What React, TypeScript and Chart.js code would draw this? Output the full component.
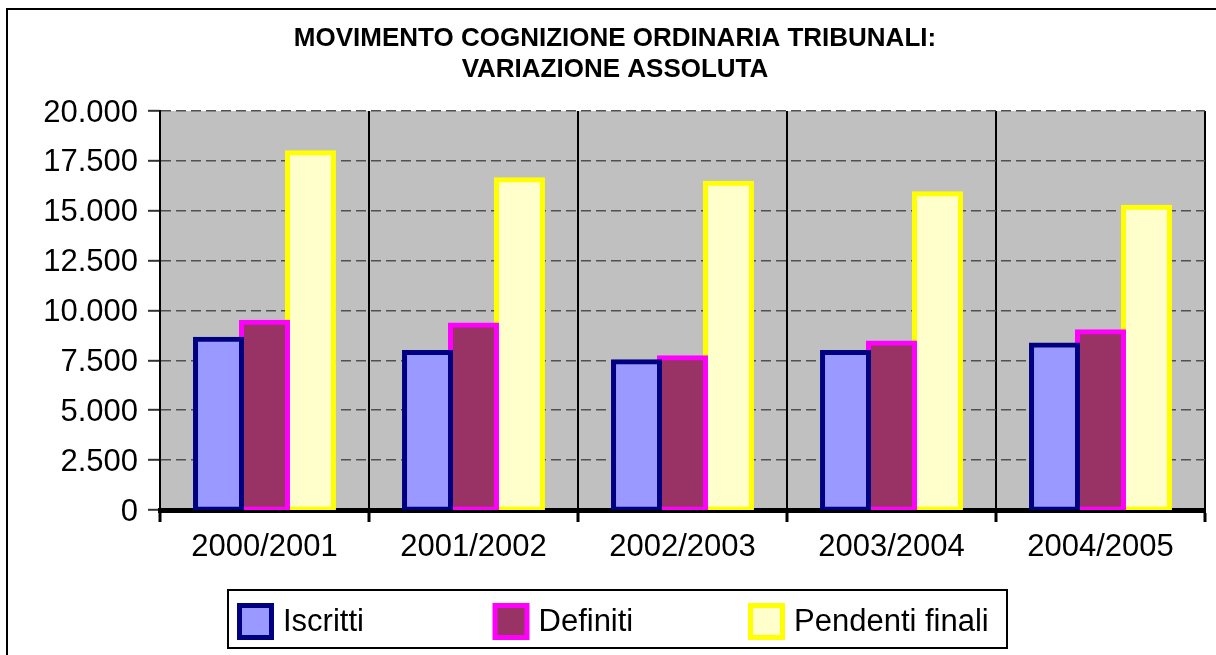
import React, { useEffect, useRef } from 'react';
import { Chart, registerables } from 'chart.js';

Chart.register(...registerables);

const categories = ['2000/2001', '2001/2002', '2002/2003', '2003/2004', '2004/2005'];
const iscritti = [8560, 7900, 7430, 7900, 8270];
const definiti = [9410, 9270, 7630, 8370, 8940];
const pendentiFinali = [17910, 16550, 16380, 15850, 15180];
const seriesLabels = ['Iscritti', 'Definiti', 'Pendenti finali'];
const yTickValues = [0, 2500, 5000, 7500, 10000, 12500, 15000, 17500, 20000];
const yTickLabels = ['0', '2.500', '5.000', '7.500', '10.000', '12.500', '15.000', '17.500', '20.000'];
const titleLines = ['MOVIMENTO COGNIZIONE ORDINARIA TRIBUNALI:', 'VARIAZIONE ASSOLUTA'];

const FONT = '"Liberation Sans", Arial, Helvetica, sans-serif';

const backgroundPlugin = {
  id: 'excelBackground',
  beforeDraw(chart: any) {
    const { ctx, chartArea } = chart;
    ctx.save();
    ctx.fillStyle = '#ffffff';
    ctx.fillRect(0, 0, chart.width, chart.height);
    ctx.fillStyle = '#C0C0C0';
    ctx.fillRect(chartArea.left, chartArea.top, chartArea.right - chartArea.left, chartArea.bottom - chartArea.top);
    ctx.restore();
  },
};

const framePlugin = {
  id: 'excelFrame',
  afterDraw(chart: any) {
    const ctx = chart.ctx;
    ctx.save();
    // outer chart frame (left and top edges visible)
    ctx.strokeStyle = '#000';
    ctx.lineWidth = 2;
    ctx.beginPath();
    ctx.moveTo(7, chart.height + 5);
    ctx.lineTo(7, 9);
    ctx.lineTo(chart.width + 5, 9);
    ctx.stroke();

    // legend box
    const bx = 228, by = 590, bw = 779, bh = 58;
    ctx.fillStyle = '#fff';
    ctx.fillRect(bx, by, bw, bh);
    ctx.lineWidth = 2;
    ctx.strokeStyle = '#000';
    ctx.strokeRect(bx, by, bw, bh);

    chart.data.datasets.forEach((ds: any, i: number) => {
      const x0 = 237 + i * 255.5;
      ctx.fillStyle = ds.backgroundColor;
      ctx.fillRect(x0 + 2.5, 605.5, 32, 32);
      ctx.lineWidth = 5;
      ctx.strokeStyle = ds.borderColor;
      ctx.strokeRect(x0 + 2.5, 605.5, 32, 32);
      ctx.fillStyle = '#000';
      ctx.font = `31px ${FONT}`;
      ctx.textBaseline = 'middle';
      ctx.textAlign = 'left';
      ctx.fillText(ds.label, x0 + 46, 622.5);
    });
    ctx.restore();
  },
};

export default function App() {
  const ref = useRef<HTMLCanvasElement>(null);

  useEffect(() => {
    document.body.style.margin = '0';
    document.body.style.overflow = 'hidden';
    Chart.defaults.font.family = FONT;
    const chart = new Chart(ref.current as HTMLCanvasElement, {
      type: 'bar',
      data: {
        labels: categories,
        datasets: [
          {
            label: seriesLabels[0],
            data: iscritti,
            backgroundColor: '#9999FF',
            borderColor: '#000080',
          },
          {
            label: seriesLabels[1],
            data: definiti,
            backgroundColor: '#993366',
            borderColor: '#FF00FF',
          },
          {
            label: seriesLabels[2],
            data: pendentiFinali,
            backgroundColor: '#FFFFCC',
            borderColor: '#FFFF00',
          },
        ].map((d) => ({
          ...d,
          borderWidth: 5,
          borderSkipped: false,
          inflateAmount: 2.5,
          categoryPercentage: 0.66,
          barPercentage: 1,
        })) as any,
      },
      options: {
        animation: false,
        responsive: false,
        devicePixelRatio: 1,
        layout: { padding: { left: 25, right: 11, top: 0, bottom: 0 } },
        plugins: {
          legend: { display: false },
          tooltip: { enabled: false },
          title: {
            display: true,
            text: titleLines,
            color: '#000',
            font: { family: FONT, size: 26, weight: 'bold', lineHeight: 1.192 },
            padding: { top: 23, bottom: 26 },
          },
        },
        scales: {
          x: {
            type: 'category',
            offset: true,
            grid: {
              display: true,
              offset: true,
              color: '#000',
              lineWidth: 2,
              drawTicks: true,
              tickLength: 12,
              tickWidth: 3,
              tickColor: '#000',
            },
            border: { display: true, color: '#000', width: 5 },
            ticks: {
              color: '#000',
              font: { family: FONT, size: 31 },
              padding: 7,
              maxRotation: 0,
              autoSkip: false,
            },
            afterFit(scale: any) {
              scale.height = 145;
            },
          },
          y: {
            min: 0,
            max: 20000,
            grid: {
              color: '#505050',
              lineWidth: 1.6,
              drawTicks: true,
              tickLength: 12,
              tickWidth: 2,
              tickColor: '#333',
              tickBorderDash: [],
            },
            border: { display: true, color: '#000', width: 2, dash: [10, 5] },
            ticks: {
              color: '#000',
              font: { family: FONT, size: 31 },
              padding: 10,
              labelOffset: 2,
              callback: (v: any) => {
                const i = yTickValues.indexOf(Number(v));
                return i >= 0 ? yTickLabels[i] : '';
              },
            },
            afterBuildTicks(scale: any) {
              scale.ticks = yTickValues.map((v) => ({ value: v }));
            },
            afterFit(scale: any) {
              scale.width = 135;
            },
          },
        },
      } as any,
      plugins: [backgroundPlugin, framePlugin],
    });
    return () => chart.destroy();
  }, []);

  return (
    <canvas
      ref={ref}
      width={1216}
      height={655}
      style={{ display: 'block', width: '1216px', height: '655px' }}
    />
  );
}
